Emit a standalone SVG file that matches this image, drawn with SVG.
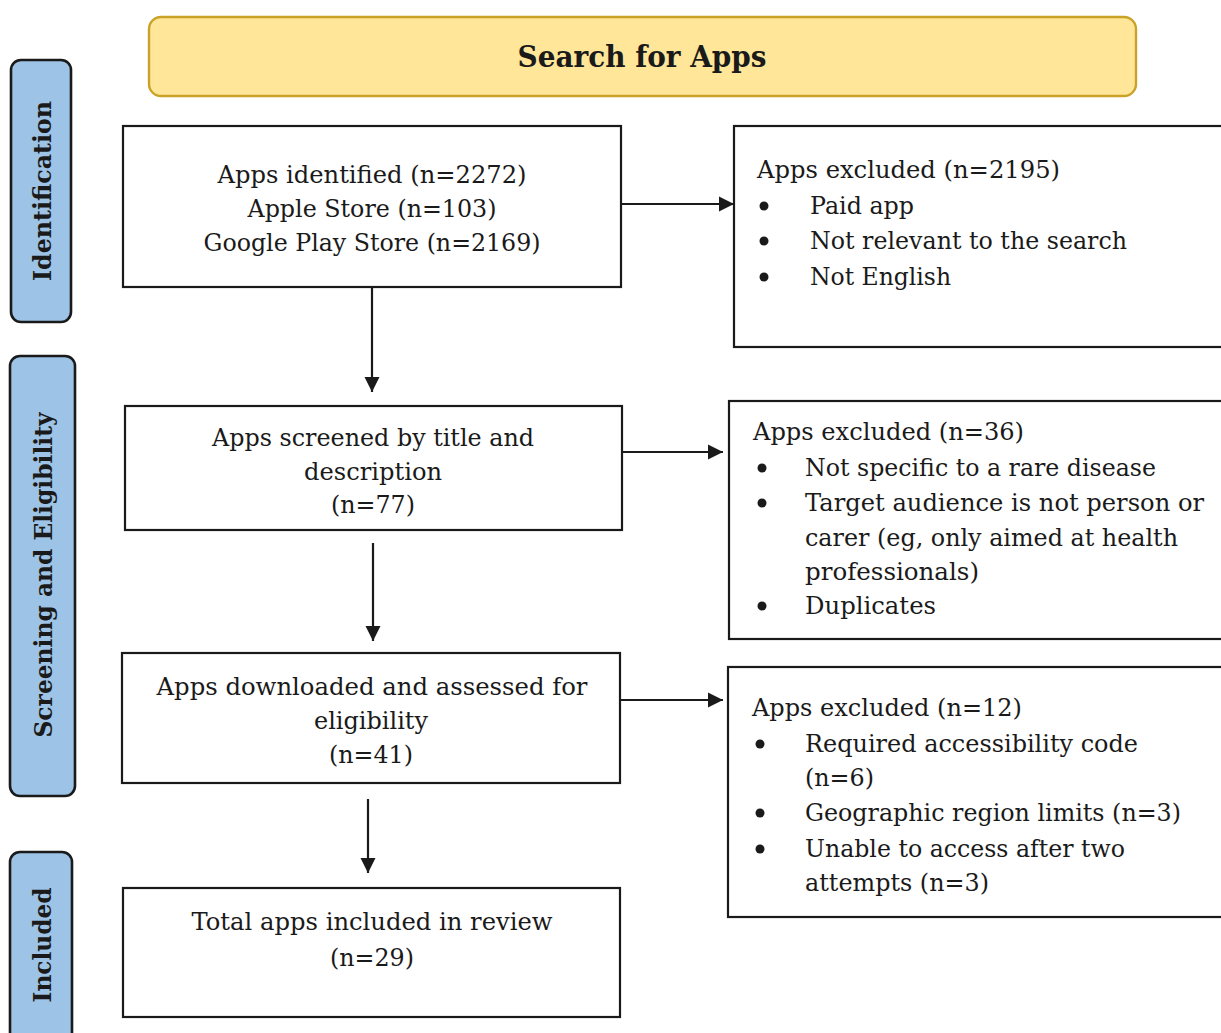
<svg xmlns="http://www.w3.org/2000/svg" width="1221" height="1033" viewBox="0 0 1221 1033">
  <style>
    .box { fill: #ffffff; stroke: #1a1a1a; stroke-width: 2.2; }
    .tab { fill: #9dc3e6; stroke: #1a1a1a; stroke-width: 2.6; }
    .banner { fill: #ffe699; stroke: #c9a227; stroke-width: 2.4; }
    .t { font-family: "DejaVu Serif", "Liberation Serif", serif; font-size: 24px; fill: #1a1a1a; }
    .c { text-anchor: middle; }
    .tabt { font-family: "DejaVu Serif", "Liberation Serif", serif; font-size: 24px; font-weight: bold; fill: #1a1a1a; text-anchor: middle; }
    .head { font-family: "DejaVu Serif", "Liberation Serif", serif; font-size: 29px; font-weight: bold; fill: #1a1a1a; text-anchor: middle; }
    .edge { stroke: #1a1a1a; stroke-width: 2.2; fill: none; marker-end: url(#arrow); }
    .dot { fill: #1a1a1a; }
  </style>
  <defs>
    <marker id="arrow" viewBox="0 0 10 10" refX="10" refY="5" markerWidth="7" markerHeight="7" markerUnits="strokeWidth" orient="auto">
      <path d="M0,0 L10,5 L0,10 Z" fill="#1a1a1a"/>
    </marker>
  </defs>

  <rect width="1221" height="1033" fill="#ffffff"/>

  <!-- top banner -->
  <g id="banner">
    <rect class="banner" x="149" y="17" width="987" height="79" rx="12"/>
    <text class="head" x="642" y="67" textLength="249" lengthAdjust="spacingAndGlyphs">Search for Apps</text>
  </g>

  <!-- phase tabs -->
  <g id="tab-identification">
    <rect class="tab" x="11" y="60" width="60" height="262" rx="10"/>
    <text class="tabt" transform="translate(51,191) rotate(-90)" textLength="180" lengthAdjust="spacingAndGlyphs">Identification</text>
  </g>
  <g id="tab-screening">
    <rect class="tab" x="10" y="356" width="65" height="440" rx="10"/>
    <text class="tabt" transform="translate(52,575) rotate(-90)" textLength="325" lengthAdjust="spacingAndGlyphs">Screening and Eligibility</text>
  </g>
  <g id="tab-included">
    <rect class="tab" x="10" y="852" width="62" height="200" rx="10"/>
    <text class="tabt" transform="translate(51,945) rotate(-90)" textLength="115" lengthAdjust="spacingAndGlyphs">Included</text>
  </g>

  <!-- main flow -->
  <g id="identified">
    <rect class="box" x="123" y="126" width="498" height="161"/>
    <text class="t c" x="372" y="183" textLength="309" lengthAdjust="spacingAndGlyphs">Apps identified (n=2272)</text>
    <text class="t c" x="372" y="217" textLength="249" lengthAdjust="spacingAndGlyphs">Apple Store (n=103)</text>
    <text class="t c" x="372" y="251" textLength="337" lengthAdjust="spacingAndGlyphs">Google Play Store (n=2169)</text>
  </g>

  <g id="screened">
    <rect class="box" x="125" y="406" width="497" height="124"/>
    <text class="t c" x="373" y="446" textLength="322" lengthAdjust="spacingAndGlyphs">Apps screened by title and</text>
    <text class="t c" x="373" y="480" textLength="138" lengthAdjust="spacingAndGlyphs">description</text>
    <text class="t c" x="373" y="513" textLength="84" lengthAdjust="spacingAndGlyphs">(n=77)</text>
  </g>

  <g id="assessed">
    <rect class="box" x="122" y="653" width="498" height="130"/>
    <text class="t c" x="372" y="695" textLength="431" lengthAdjust="spacingAndGlyphs">Apps downloaded and assessed for</text>
    <text class="t c" x="371" y="729" textLength="114" lengthAdjust="spacingAndGlyphs">eligibility</text>
    <text class="t c" x="371" y="763" textLength="84" lengthAdjust="spacingAndGlyphs">(n=41)</text>
  </g>

  <g id="included">
    <rect class="box" x="123" y="888" width="497" height="129"/>
    <text class="t c" x="372" y="930" textLength="361" lengthAdjust="spacingAndGlyphs">Total apps included in review</text>
    <text class="t c" x="372" y="966" textLength="84" lengthAdjust="spacingAndGlyphs">(n=29)</text>
  </g>

  <!-- exclusion boxes -->
  <g id="excluded-identification">
    <rect class="box" x="734" y="126" width="500" height="221"/>
    <text class="t" x="757" y="178" textLength="303" lengthAdjust="spacingAndGlyphs">Apps excluded (n=2195)</text>
    <circle class="dot" cx="764" cy="206" r="4.5"/>
    <text class="t" x="810" y="214" textLength="104" lengthAdjust="spacingAndGlyphs">Paid app</text>
    <circle class="dot" cx="764" cy="241" r="4.5"/>
    <text class="t" x="810" y="249" textLength="317" lengthAdjust="spacingAndGlyphs">Not relevant to the search</text>
    <circle class="dot" cx="764" cy="277" r="4.5"/>
    <text class="t" x="810" y="285" textLength="141" lengthAdjust="spacingAndGlyphs">Not English</text>
  </g>

  <g id="excluded-screening">
    <rect class="box" x="729" y="401" width="505" height="238"/>
    <text class="t" x="753" y="440" textLength="271" lengthAdjust="spacingAndGlyphs">Apps excluded (n=36)</text>
    <circle class="dot" cx="762" cy="468" r="4.5"/>
    <text class="t" x="805" y="476" textLength="351" lengthAdjust="spacingAndGlyphs">Not specific to a rare disease</text>
    <circle class="dot" cx="762" cy="503" r="4.5"/>
    <text class="t" x="805" y="511" textLength="399" lengthAdjust="spacingAndGlyphs">Target audience is not person or</text>
    <text class="t" x="805" y="546" textLength="373" lengthAdjust="spacingAndGlyphs">carer (eg, only aimed at health</text>
    <text class="t" x="805" y="580" textLength="174" lengthAdjust="spacingAndGlyphs">professionals)</text>
    <circle class="dot" cx="762" cy="606" r="4.5"/>
    <text class="t" x="805" y="614" textLength="131" lengthAdjust="spacingAndGlyphs">Duplicates</text>
  </g>

  <g id="excluded-eligibility">
    <rect class="box" x="728" y="667" width="506" height="250"/>
    <text class="t" x="752" y="716" textLength="270" lengthAdjust="spacingAndGlyphs">Apps excluded (n=12)</text>
    <circle class="dot" cx="760" cy="744" r="4.5"/>
    <text class="t" x="805" y="752" textLength="333" lengthAdjust="spacingAndGlyphs">Required accessibility code</text>
    <text class="t" x="805" y="786" textLength="69" lengthAdjust="spacingAndGlyphs">(n=6)</text>
    <circle class="dot" cx="760" cy="813" r="4.5"/>
    <text class="t" x="805" y="821" textLength="376" lengthAdjust="spacingAndGlyphs">Geographic region limits (n=3)</text>
    <circle class="dot" cx="760" cy="849" r="4.5"/>
    <text class="t" x="805" y="857" textLength="320" lengthAdjust="spacingAndGlyphs">Unable to access after two</text>
    <text class="t" x="805" y="891" textLength="184" lengthAdjust="spacingAndGlyphs">attempts (n=3)</text>
  </g>

  <!-- connectors -->
  <g id="connectors">
    <line class="edge" x1="372" y1="287" x2="372" y2="392"/>
    <line class="edge" x1="373" y1="543" x2="373" y2="641"/>
    <line class="edge" x1="368" y1="799" x2="368" y2="873"/>
    <line class="edge" x1="621" y1="204" x2="734" y2="204"/>
    <line class="edge" x1="622" y1="452" x2="723" y2="452"/>
    <line class="edge" x1="620" y1="700" x2="723" y2="700"/>
  </g>
</svg>
